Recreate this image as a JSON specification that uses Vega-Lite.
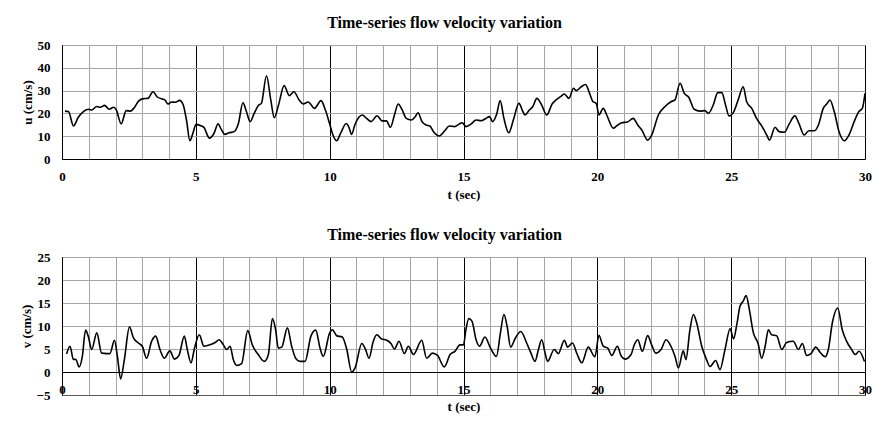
{
"$schema": "https://vega.github.io/schema/vega-lite/v6.json",
"background": "white",
"padding": {"left": 19, "top": 14, "right": 0, "bottom": 4},
"config": {
  "font": "Liberation Serif",
  "view": {"stroke": "#595959", "strokeWidth": 1},
  "axis": {"labelFont": "Liberation Serif", "labelFontWeight": "bold", "labelFontSize": 13, "labelColor": "black", "titleFont": "Liberation Serif", "titleFontWeight": "bold", "titleFontSize": 13, "titleColor": "black", "ticks": false, "domainColor": "black", "gridColor": "#a6a6a6", "gridOpacity": 1, "gridWidth": 1, "labelOverlap": false, "labelBound": false, "labelFlush": false},
  "title": {"font": "Liberation Serif", "fontSize": 16, "fontWeight": "bold", "color": "black"}
},
"datasets": {
"u": [
{"t":0.11,"u":21},{"t":0.24,"u":20.8},{"t":0.43,"u":14.5},{"t":0.61,"u":18.3},{"t":0.8,"u":20.8},{"t":1.0,"u":21.8},{"t":1.11,"u":21.5},{"t":1.3,"u":23},{"t":1.43,"u":22.7},{"t":1.59,"u":23.5},{"t":1.76,"u":21.8},{"t":1.93,"u":22.7},{"t":2.03,"u":21.5},{"t":2.21,"u":15.4},{"t":2.4,"u":21.2},{"t":2.55,"u":21},{"t":2.68,"u":22.2},{"t":2.86,"u":25.4},{"t":3.05,"u":26.5},{"t":3.21,"u":26.6},{"t":3.4,"u":29.5},{"t":3.55,"u":27.3},{"t":3.74,"u":26.3},{"t":3.84,"u":25.9},{"t":3.96,"u":24.1},{"t":4.09,"u":25},{"t":4.24,"u":24.9},{"t":4.39,"u":25.7},{"t":4.53,"u":23.7},{"t":4.65,"u":17.1},{"t":4.78,"u":8},{"t":4.89,"u":11.3},{"t":5.01,"u":15.2},{"t":5.21,"u":14.5},{"t":5.3,"u":13.9},{"t":5.51,"u":9.1},{"t":5.68,"u":11.3},{"t":5.83,"u":15.4},{"t":5.95,"u":13},{"t":6.08,"u":10.8},{"t":6.24,"u":11.5},{"t":6.43,"u":12},{"t":6.59,"u":15.6},{"t":6.76,"u":24.7},{"t":6.89,"u":20.8},{"t":7.03,"u":16.4},{"t":7.18,"u":20},{"t":7.33,"u":23.4},{"t":7.45,"u":24.4},{"t":7.64,"u":36.5},{"t":7.8,"u":25.9},{"t":7.93,"u":18.1},{"t":8.09,"u":23.7},{"t":8.3,"u":32.2},{"t":8.49,"u":27.8},{"t":8.66,"u":29.5},{"t":8.86,"u":25.9},{"t":9.01,"u":24.1},{"t":9.2,"u":25},{"t":9.43,"u":22.2},{"t":9.68,"u":25.6},{"t":9.84,"u":21.5},
{"t":10.0,"u":15.4},{"t":10.1,"u":11.3},{"t":10.26,"u":8},{"t":10.41,"u":11.3},{"t":10.62,"u":15.6},{"t":10.72,"u":13.9},{"t":10.82,"u":10.8},{"t":10.94,"u":14.9},{"t":11.09,"u":18.3},{"t":11.22,"u":19.3},{"t":11.38,"u":17.8},{"t":11.55,"u":16.4},{"t":11.77,"u":19},{"t":11.96,"u":16.7},{"t":12.12,"u":16.7},{"t":12.27,"u":13.9},{"t":12.42,"u":19.3},{"t":12.56,"u":24.1},{"t":12.71,"u":21.5},{"t":12.86,"u":17.8},{"t":13.05,"u":17.1},{"t":13.2,"u":18.6},{"t":13.3,"u":20.3},{"t":13.45,"u":16.4},{"t":13.6,"u":14.9},{"t":13.74,"u":14.5},{"t":13.88,"u":12},{"t":14.1,"u":10.1},{"t":14.3,"u":12.4},{"t":14.47,"u":14.5},{"t":14.67,"u":14.2},{"t":14.82,"u":15.2},{"t":14.95,"u":15.9},{"t":15.1,"u":14.2},{"t":15.29,"u":15.4},{"t":15.47,"u":17.1},{"t":15.66,"u":16.8},{"t":15.84,"u":17.8},{"t":15.97,"u":18.6},{"t":16.09,"u":16.4},{"t":16.24,"u":19.7},{"t":16.37,"u":25.6},{"t":16.51,"u":17.8},{"t":16.69,"u":11.5},{"t":16.87,"u":17.4},{"t":17.07,"u":24.4},{"t":17.22,"u":20.8},{"t":17.3,"u":19.3},{"t":17.46,"u":21.5},{"t":17.59,"u":23},{"t":17.74,"u":26.6},{"t":17.92,"u":23.7},{"t":18.11,"u":19.3},{"t":18.31,"u":24.1},{"t":18.46,"u":25.9},{"t":18.65,"u":27.6},{"t":18.77,"u":28.5},{"t":18.94,"u":26.6},{"t":19.11,"u":31},{"t":19.21,"u":30},{"t":19.4,"u":31.7},{"t":19.56,"u":32.7},{"t":19.71,"u":28.8},{"t":19.84,"u":25.1},{"t":19.96,"u":24.4},
{"t":20.06,"u":19.3},{"t":20.22,"u":22.2},{"t":20.35,"u":19.3},{"t":20.6,"u":13.5},{"t":20.72,"u":14.5},{"t":20.91,"u":15.9},{"t":21.12,"u":16.2},{"t":21.34,"u":17.8},{"t":21.51,"u":14.9},{"t":21.66,"u":12.7},{"t":21.88,"u":8.3},{"t":22.03,"u":10.5},{"t":22.28,"u":19.3},{"t":22.53,"u":23},{"t":22.75,"u":25.1},{"t":22.9,"u":25.9},{"t":23.09,"u":33.2},{"t":23.25,"u":28.8},{"t":23.42,"u":27},{"t":23.62,"u":21.8},{"t":23.84,"u":21},{"t":24.02,"u":21.2},{"t":24.15,"u":20},{"t":24.33,"u":23.7},{"t":24.5,"u":29.1},{"t":24.65,"u":29.1},{"t":24.79,"u":23.7},{"t":24.92,"u":18.9},{"t":25.1,"u":20.8},{"t":25.26,"u":25.9},{"t":25.45,"u":31.7},{"t":25.58,"u":25.1},{"t":25.77,"u":22.2},{"t":25.95,"u":17.8},{"t":26.14,"u":14.5},{"t":26.33,"u":10.5},{"t":26.43,"u":8.3},{"t":26.64,"u":13.9},{"t":26.79,"u":12},{"t":26.99,"u":11.7},{"t":27.17,"u":15.4},{"t":27.38,"u":18.9},{"t":27.53,"u":15.6},{"t":27.73,"u":10.5},{"t":27.9,"u":12.4},{"t":28.11,"u":12.4},{"t":28.26,"u":14.9},{"t":28.44,"u":22.2},{"t":28.57,"u":24.1},{"t":28.69,"u":25.9},{"t":28.85,"u":20.8},{"t":29.03,"u":12},{"t":29.23,"u":8},{"t":29.4,"u":10.5},{"t":29.63,"u":17.4},{"t":29.77,"u":20.8},{"t":29.9,"u":22.2},{"t":30,"u":28.8}
],
"v": [
{"t":0.17,"v":3.9},{"t":0.3,"v":5.6},{"t":0.42,"v":2.8},{"t":0.52,"v":2.7},{"t":0.64,"v":1.1},{"t":0.76,"v":3.4},{"t":0.88,"v":9.1},{"t":0.98,"v":7.8},{"t":1.11,"v":4.9},{"t":1.3,"v":8.5},{"t":1.48,"v":4.1},{"t":1.67,"v":4},{"t":1.79,"v":4},{"t":1.96,"v":6.9},{"t":2.07,"v":3.4},{"t":2.19,"v":-1.5},{"t":2.33,"v":2.7},{"t":2.52,"v":9.8},{"t":2.67,"v":7.4},{"t":2.85,"v":6.3},{"t":3.0,"v":5.6},{"t":3.16,"v":3},{"t":3.35,"v":6.7},{"t":3.5,"v":7.8},{"t":3.66,"v":4.9},{"t":3.82,"v":3},{"t":4.03,"v":4.6},{"t":4.2,"v":2.8},{"t":4.37,"v":3.6},{"t":4.57,"v":7.8},{"t":4.68,"v":4.9},{"t":4.82,"v":2},{"t":4.94,"v":4.9},{"t":5.13,"v":8.1},{"t":5.3,"v":5.6},{"t":5.53,"v":5.9},{"t":5.72,"v":6.4},{"t":5.87,"v":7},{"t":6.03,"v":5.9},{"t":6.15,"v":4.9},{"t":6.28,"v":5.6},{"t":6.4,"v":2.7},{"t":6.53,"v":1.4},{"t":6.71,"v":1.8},{"t":6.94,"v":9},{"t":7.11,"v":5.9},{"t":7.33,"v":3.8},{"t":7.56,"v":2.3},{"t":7.71,"v":3.8},{"t":7.86,"v":11.6},{"t":7.98,"v":9.2},{"t":8.08,"v":5.2},{"t":8.21,"v":5.4},{"t":8.42,"v":9.6},{"t":8.58,"v":5.6},{"t":8.73,"v":3},{"t":8.89,"v":2.3},{"t":9.08,"v":2.3},{"t":9.3,"v":7.8},{"t":9.48,"v":9.1},{"t":9.64,"v":5.2},{"t":9.76,"v":3.4},
{"t":10.0,"v":8.5},{"t":10.1,"v":9.2},{"t":10.26,"v":7.9},{"t":10.47,"v":7.6},{"t":10.64,"v":4.9},{"t":10.82,"v":0},{"t":10.95,"v":0.9},{"t":11.2,"v":6.2},{"t":11.34,"v":4.9},{"t":11.47,"v":3},{"t":11.63,"v":6.7},{"t":11.76,"v":8.1},{"t":11.94,"v":7.2},{"t":12.13,"v":6.9},{"t":12.29,"v":6.2},{"t":12.42,"v":5},{"t":12.59,"v":6.7},{"t":12.79,"v":4},{"t":12.94,"v":5.6},{"t":13.13,"v":3.8},{"t":13.44,"v":6.9},{"t":13.62,"v":3},{"t":13.84,"v":4.1},{"t":14.03,"v":3.6},{"t":14.28,"v":1.1},{"t":14.5,"v":3.8},{"t":14.68,"v":4.5},{"t":14.87,"v":5.9},{"t":15.0,"v":5.9},{"t":15.09,"v":9.2},{"t":15.2,"v":11.6},{"t":15.32,"v":11},{"t":15.47,"v":7},{"t":15.6,"v":5.6},{"t":15.8,"v":7.6},{"t":16.01,"v":5.2},{"t":16.23,"v":3.4},{"t":16.38,"v":8.5},{"t":16.51,"v":12.5},{"t":16.63,"v":9.9},{"t":16.76,"v":5.4},{"t":16.94,"v":7.4},{"t":17.14,"v":8.8},{"t":17.36,"v":6.3},{"t":17.52,"v":4.1},{"t":17.67,"v":2.3},{"t":17.8,"v":4.9},{"t":17.92,"v":7},{"t":18.05,"v":4.1},{"t":18.14,"v":2.3},{"t":18.39,"v":4.9},{"t":18.54,"v":4},{"t":18.77,"v":6.9},{"t":18.89,"v":5.4},{"t":19.07,"v":6.3},{"t":19.23,"v":4.1},{"t":19.42,"v":2},{"t":19.66,"v":5.4},{"t":19.91,"v":3.3},
{"t":20.06,"v":8},{"t":20.22,"v":5.6},{"t":20.39,"v":5.2},{"t":20.54,"v":3.6},{"t":20.75,"v":5.6},{"t":20.88,"v":3.6},{"t":21.03,"v":2.8},{"t":21.26,"v":3.8},{"t":21.38,"v":5.9},{"t":21.51,"v":7},{"t":21.68,"v":4.5},{"t":21.88,"v":7.9},{"t":22.03,"v":5.9},{"t":22.18,"v":4.1},{"t":22.38,"v":4.9},{"t":22.57,"v":7},{"t":22.75,"v":5.6},{"t":22.9,"v":3.4},{"t":23.03,"v":0.9},{"t":23.21,"v":4.6},{"t":23.31,"v":2.7},{"t":23.46,"v":9.2},{"t":23.59,"v":12.5},{"t":23.71,"v":10.7},{"t":23.9,"v":5.6},{"t":24.08,"v":2.7},{"t":24.21,"v":1.2},{"t":24.42,"v":2.5},{"t":24.58,"v":0.5},{"t":24.77,"v":4.9},{"t":24.96,"v":9.4},{"t":25.09,"v":7.2},{"t":25.21,"v":10.3},{"t":25.33,"v":14.3},{"t":25.45,"v":15.4},{"t":25.56,"v":16.6},{"t":25.67,"v":13.9},{"t":25.83,"v":8.5},{"t":26.0,"v":6.3},{"t":26.14,"v":3},{"t":26.27,"v":5.6},{"t":26.39,"v":9.2},{"t":26.51,"v":8.1},{"t":26.7,"v":7.9},{"t":26.89,"v":4.9},{"t":27.07,"v":6.4},{"t":27.32,"v":6.7},{"t":27.51,"v":4.9},{"t":27.66,"v":6.2},{"t":27.82,"v":3.6},{"t":27.98,"v":4},{"t":28.16,"v":5.4},{"t":28.32,"v":4.3},{"t":28.51,"v":3.3},{"t":28.63,"v":4.9},{"t":28.78,"v":10.7},{"t":28.98,"v":13.9},{"t":29.15,"v":9.2},{"t":29.31,"v":6.7},{"t":29.5,"v":4.9},{"t":29.63,"v":3.8},{"t":29.78,"v":4.5},{"t":29.98,"v":2.3}
]
},
"spacing": 98,
"bounds": "flush",
"vconcat": [
{
  "width": 803, "height": 114,
  "title": {"text": "Time-series flow velocity variation", "frame": "group", "dx": -19, "offset": 8},
  "data": {"name": "u"},
  "mark": {"type": "line", "interpolate": "monotone", "color": "black", "strokeWidth": 1.6},
  "encoding": {
    "x": {"field": "t", "type": "quantitative", "scale": {"domain": [0, 30], "nice": false, "zero": false},
      "axis": {"title": "t (sec)", "values": [0,1,2,3,4,5,6,7,8,9,10,11,12,13,14,15,16,17,18,19,20,21,22,23,24,25,26,27,28,29,30],
        "labelExpr": "datum.value % 5 === 0 ? datum.label : ''",
        "gridColor": {"condition": {"test": "datum.value % 5 === 0", "value": "black"}, "value": "#a6a6a6"},
        "labelPadding": 11, "titlePadding": 5}},
    "y": {"field": "u", "type": "quantitative", "scale": {"domain": [0, 50], "nice": false},
      "axis": {"title": "u (cm/s)", "values": [0,10,20,30,40,50], "labelPadding": 12, "titlePadding": 3}}
  }
},
{
  "width": 803, "height": 138,
  "title": {"text": "Time-series flow velocity variation", "frame": "group", "dx": -19, "offset": 8},
  "data": {"name": "v"},
  "mark": {"type": "line", "interpolate": "monotone", "color": "black", "strokeWidth": 1.6},
  "encoding": {
    "x": {"field": "t", "type": "quantitative", "scale": {"domain": [0, 30], "nice": false, "zero": false},
      "axis": {"title": "t (sec)", "values": [0,1,2,3,4,5,6,7,8,9,10,11,12,13,14,15,16,17,18,19,20,21,22,23,24,25,26,27,28,29,30],
        "labelExpr": "datum.value % 5 === 0 ? datum.label : ''",
        "gridColor": {"condition": {"test": "datum.value % 5 === 0", "value": "black"}, "value": "#a6a6a6"},
        "domainColor": "#595959",
        "labelPadding": -12, "titlePadding": 4}},
    "y": {"field": "v", "type": "quantitative", "scale": {"domain": [-5, 25], "nice": false, "zero": false},
      "axis": {"title": "v (cm/s)", "values": [-5,0,5,10,15,20,25],
        "gridColor": {"condition": {"test": "datum.value === 0", "value": "black"}, "value": "#a6a6a6"},
        "labelPadding": 12, "titlePadding": 3}}
  }
}
]
}
